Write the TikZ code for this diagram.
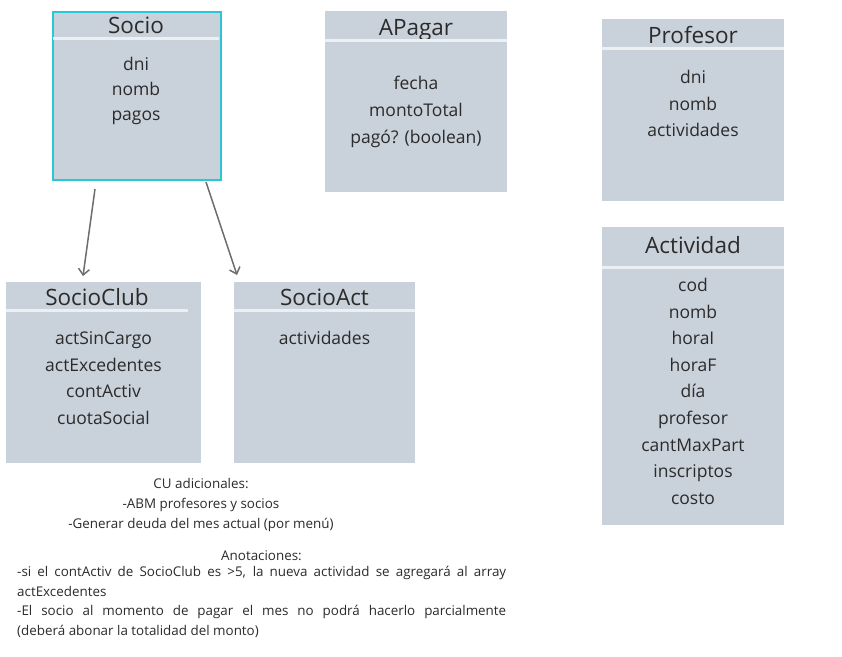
\documentclass[tikz,border=0pt]{standalone}
\usepackage{fontspec}
\setmainfont{Open Sans}
\usetikzlibrary{arrows.meta,calc}
\definecolor{boxfill}{HTML}{C9D1DA}
\definecolor{divline}{HTML}{EDF0F3}
\definecolor{cyanb}{HTML}{2BC6D3}
\definecolor{arrgray}{HTML}{6E6E6E}
\definecolor{txt}{HTML}{2B2B2B}
\begin{document}
\begin{tikzpicture}[x=1pt,y=-1pt,
  classbox/.style={fill=boxfill,draw=none,inner sep=0,anchor=north west},
  titletext/.style={anchor=base,inner sep=0,text=txt,font=\fontsize{22.5}{26}\selectfont},
  fieldtext/.style={anchor=base,inner sep=0,text=txt,font=\fontsize{17.5}{21}\selectfont},
  notetext/.style={anchor=base,inner sep=0,text=txt,font=\fontsize{13.4}{19.7}\selectfont},
  divider/.style={draw=divline,line width=3pt},
  inherit/.style={draw=arrgray,line width=1.5pt,-{Straight Barb[length=6pt,width=11pt,line width=1.5pt]}}
]
\useasboundingbox (0,0) rectangle (842,656);
\fill[white] (0,0) rectangle (842,656);

% ---------- Socio ----------
\node[classbox,minimum width=168,minimum height=168,draw=cyanb,line width=2pt] (socio) at (52,11) {};
\node[titletext] (socioT) at (136,33) {Socio};
\draw[divider] (53,38) -- (219,38);
\foreach \t [count=\i] in {dni,nomb,pagos}
  \node[fieldtext] (socio-\i) at (136,{70+(\i-1)*25}) {\t};

% ---------- APagar ----------
\node[classbox,minimum width=182,minimum height=181] (apagar) at (325,11) {};
\node[titletext] (apagarT) at (416,35) {APagar};
\draw[divider] (325,40) -- (507,40);
\foreach \t [count=\i] in {fecha,montoTotal,pagó? (boolean)}
  \node[fieldtext] (apagar-\i) at (416,{89.5+(\i-1)*27}) {\t};

% ---------- Profesor ----------
\node[classbox,minimum width=182,minimum height=182] (prof) at (602,19) {};
\node[titletext] (profT) at (693,43) {Profesor};
\draw[divider] (602,48) -- (784,48);
\foreach \t [count=\i] in {dni,nomb,actividades}
  \node[fieldtext] (prof-\i) at (693,{83.5+(\i-1)*26.5}) {\t};

% ---------- Actividad ----------
\node[classbox,minimum width=182,minimum height=298] (activ) at (602,227) {};
\node[titletext] (activT) at (693,253) {Actividad};
\draw[divider] (602,267) -- (784,267);
\foreach \t [count=\i] in {cod,nomb,horaI,horaF,día,profesor,cantMaxPart,inscriptos,costo}
  \node[fieldtext] (activ-\i) at (693,{291.5+(\i-1)*26.6}) {\t};

% ---------- SocioClub ----------
\node[classbox,minimum width=195,minimum height=181] (sclub) at (6,282) {};
\node[titletext] (sclubT) at (97,305) {SocioClub};
\draw[divider] (6,310) -- (188,310);
\foreach \t [count=\i] in {actSinCargo,actExcedentes,contActiv,cuotaSocial}
  \node[fieldtext] (sclub-\i) at (103.5,{344.5+(\i-1)*26.7}) {\t};

% ---------- SocioAct ----------
\node[classbox,minimum width=181,minimum height=181] (sact) at (234,282) {};
\node[titletext] (sactT) at (324.5,305) {SocioAct};
\draw[divider] (234,310) -- (415,310);
\node[fieldtext] (sact-1) at (324.5,344.5) {actividades};

% ---------- inheritance arrows ----------
\coordinate (a1s) at (95,189);
\coordinate (a1e) at (83,276);
\coordinate (a2s) at (206,182);
\coordinate (a2e) at (237,275);
\draw[inherit] (a1s) -- (a1e);
\draw[inherit] (a2s) -- (a2e);

% ---------- notes ----------
\node[notetext] (cu1) at (201,488) {CU adicionales:};
\node[notetext] (cu2) at (201,508) {-ABM profesores y socios};
\node[notetext] (cu3) at (201,528) {-Generar deuda del mes actual (por menú)};
\node[notetext] (anot) at (261.5,560) {Anotaciones:};
\node[anchor=north west,inner sep=0,text width=489pt,align=justify,text=txt,
      font=\fontsize{13.4}{19.7}\selectfont] (notes) at (17,566)
 {\hyphenpenalty=10000\exhyphenpenalty=10000\parindent=0pt\relax
  -si el contActiv de SocioClub es >5, la nueva actividad se agregará al array actExcedentes\par
  -El socio al momento de pagar el mes no podrá hacerlo parcialmente\linebreak (deberá abonar la totalidad del monto)\par};
\end{tikzpicture}
\end{document}
